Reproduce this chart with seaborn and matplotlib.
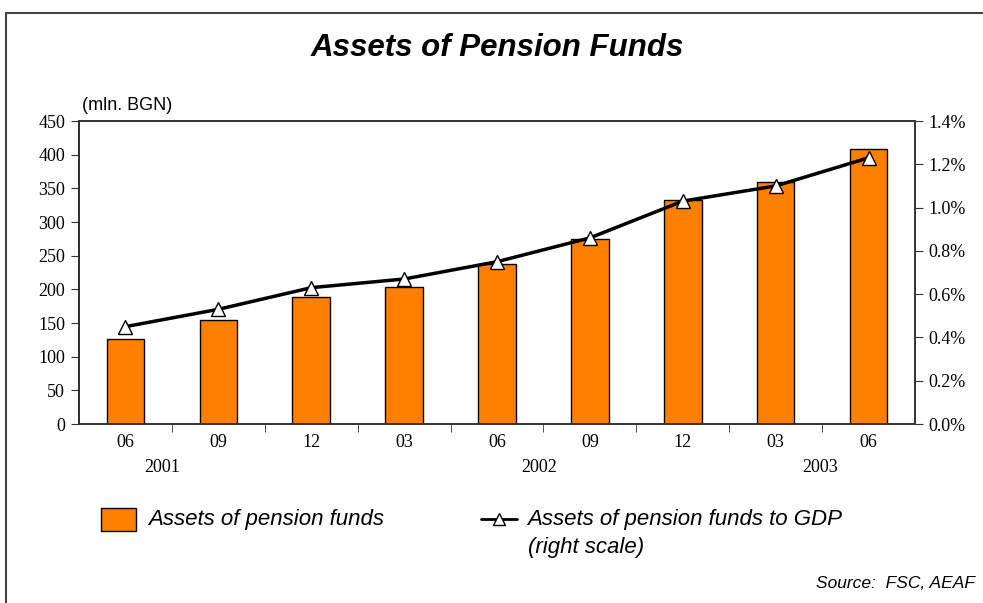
import numpy as np
import pandas as pd
import matplotlib
matplotlib.use('Agg')
import matplotlib.pyplot as plt
from matplotlib.lines import Line2D
from matplotlib.patches import Rectangle
from matplotlib.ticker import FixedLocator, PercentFormatter
import seaborn as sns

# data
periods = ['2001-06', '2001-09', '2001-12', '2002-03', '2002-06',
           '2002-09', '2002-12', '2003-03', '2003-06']
month_labels = ['06', '09', '12', '03', '06', '09', '12', '03', '06']
assets = [127, 154, 188, 203, 237, 275, 332, 360, 408]          # mln. BGN
assets_to_gdp = [0.45, 0.53, 0.63, 0.67, 0.75, 0.86, 1.03, 1.10, 1.23]  # %
years = ['2001', '2002', '2003']
year_pos = [0.4, 4.45, 7.48]

df = pd.DataFrame({'period': periods, 'assets': assets,
                   'gdp': assets_to_gdp, 'pos': np.arange(len(periods))})

sns.set_style('white')
plt.rcParams['text.color'] = 'black'
plt.rcParams['xtick.color'] = '#333333'
plt.rcParams['ytick.color'] = '#333333'
plt.rcParams['xtick.labelcolor'] = 'black'
plt.rcParams['ytick.labelcolor'] = 'black'
serif = 'Liberation Serif'
sans = 'Liberation Sans'

fig = plt.figure(figsize=(9.83, 6.03), dpi=100)
ax = fig.add_axes([0.0804, 0.2968, 0.8504, 0.5025])

sns.barplot(data=df, x='period', y='assets', order=periods, color='#FF8000',
            saturation=1, width=0.405, edgecolor='black', linewidth=1, ax=ax)
ax.set_xlim(-0.5, len(periods) - 0.5)
ax.set_ylim(0, 450)
ax.set_yticks(np.arange(0, 451, 50))
ax.set_xlabel('')
ax.set_ylabel('')
ax.set_xticks(range(len(periods)))
ax.set_xticklabels(month_labels, fontfamily=serif, fontsize=13)
ax.tick_params(axis='x', which='major', length=0, pad=7)
ax.xaxis.set_minor_locator(FixedLocator(np.arange(0.5, len(periods) - 0.5, 1)))
ax.tick_params(axis='x', which='minor', direction='out', length=6, bottom=True)
ax.tick_params(axis='y', direction='out', length=6, left=True,
               labelsize=13, pad=4)
for lbl in ax.get_yticklabels():
    lbl.set_fontfamily(serif)
for side in ['left', 'right', 'top', 'bottom']:
    ax.spines[side].set_visible(True)
    ax.spines[side].set_color('#333333')
    ax.spines[side].set_linewidth(1.2)
ax.spines['left'].set_color('black')

ax2 = ax.twinx()
sns.lineplot(data=df, x='pos', y='gdp', color='black', linewidth=2.5,
             marker='^', markersize=9.5, markerfacecolor='white',
             markeredgecolor='black', markeredgewidth=1, ax=ax2)
ax2.set_ylim(0, 1.4)
ax2.set_yticks(np.arange(0, 1.41, 0.2))
ax2.yaxis.set_major_formatter(PercentFormatter(decimals=1))
ax2.set_ylabel('')
ax2.set_xlabel('')
ax2.tick_params(axis='y', direction='out', length=6, right=True,
                labelsize=13, pad=4)
for lbl in ax2.get_yticklabels():
    lbl.set_fontfamily(serif)
ax2.set_xlim(-0.5, len(periods) - 0.5)
for side in ['left', 'right', 'top', 'bottom']:
    ax2.spines[side].set_color('#333333')
    ax2.spines[side].set_linewidth(1.2)

for y, p in zip(years, year_pos):
    ax.text(p, -0.145, y, transform=ax.get_xaxis_transform(), ha='center',
            va='center', fontfamily=serif, fontsize=13)

fig.text(0.506, 1 - 48 / 603, 'Assets of Pension Funds', ha='center', va='center',
         fontfamily=sans, fontsize=22.5, fontweight='bold', fontstyle='italic')
fig.text(82 / 983, 1 - 105 / 603, '(mln. BGN)', ha='left', va='center',
         fontfamily=sans, fontsize=13)

# legend drawn by hand to follow the original layout
fig.patches.append(Rectangle((101 / 983, 1 - 531 / 603), 35 / 983, 23 / 603,
                             transform=fig.transFigure, facecolor='#FF8000',
                             edgecolor='black', linewidth=1))
fig.text(148 / 983, 1 - 519 / 603, 'Assets of pension funds', ha='left',
         va='center', fontfamily=sans, fontsize=16, fontstyle='italic')
fig.lines.append(Line2D([481 / 983, 517 / 983], [1 - 519 / 603, 1 - 519 / 603],
                        transform=fig.transFigure, color='black', linewidth=2))
fig.lines.append(Line2D([499 / 983], [1 - 519 / 603], transform=fig.transFigure,
                        marker='^', markersize=8, markerfacecolor='white',
                        markeredgecolor='black', markeredgewidth=1, linestyle=''))
fig.text(527 / 983, 1 - 519 / 603, 'Assets of pension funds to GDP', ha='left',
         va='center', fontfamily=sans, fontsize=16, fontstyle='italic')
fig.text(528 / 983, 1 - 548 / 603, '(right scale)', ha='left',
         va='center', fontfamily=sans, fontsize=16, fontstyle='italic')
fig.text(975 / 983, 1 - 583 / 603, 'Source:  FSC, AEAF', ha='right',
         va='center', fontfamily=sans, fontsize=12.5, fontstyle='italic')

# outer frame (top and left edges visible)
fig.lines.append(Line2D([6 / 983, 1], [1 - 13 / 603, 1 - 13 / 603],
                        transform=fig.transFigure, color='#444444', linewidth=1.5))
fig.lines.append(Line2D([6 / 983, 6 / 983], [0, 1 - 13 / 603],
                        transform=fig.transFigure, color='#444444', linewidth=1.5))

fig.savefig('out.png', dpi=100, facecolor='white')
